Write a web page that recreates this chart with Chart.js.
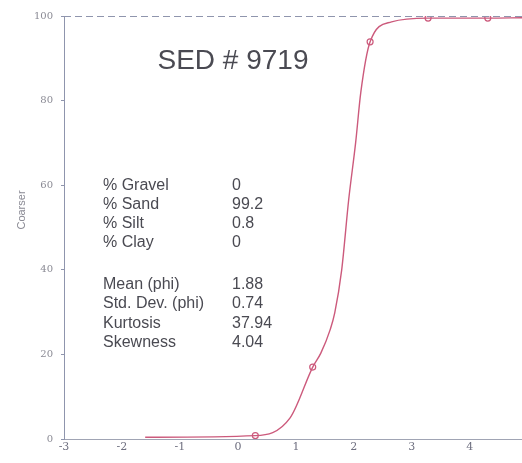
<!DOCTYPE html>
<html>
<head>
<meta charset="utf-8">
<script src="https://cdn.jsdelivr.net/npm/chart.js@4.4.1/dist/chart.umd.min.js"></script>
<style>
  html, body { margin: 0; padding: 0; background: #fff; }
  #wrap { width: 522px; height: 463px; }
</style>
</head>
<body>
<div id="wrap"><canvas id="sed"></canvas></div>
<script>
// cumulative curve (phi, % coarser)
const curvePhi = [-1.6, 0.3, 0.9, 1.29, 1.43, 1.59, 1.67, 1.79, 1.91, 2.03, 2.12, 2.28, 2.65, 3.28, 4.31, 4.9];
const curvePct = [0.4, 0.8, 5, 17, 20.3, 25.8, 29.8, 40, 56.5, 70, 82, 93.9, 98.6, 99.5, 99.5, 99.6];
// which points carry a circle marker
const markerOn = [false, true, false, true, false, false, false, false, false, false, false, true, false, true, true, false];

const xTicks = [-3, -2, -1, 0, 1, 2, 3, 4];
const yTicks = [0, 20, 40, 60, 80, 100];

const sampleTitle = "SED # 9719";
const axisTitle = "Coarser";
const statLabels = ["% Gravel", "% Sand", "% Silt", "% Clay", "Mean (phi)", "Std. Dev. (phi)", "Kurtosis", "Skewness"];
const statValues = ["0", "99.2", "0.8", "0", "1.88", "0.74", "37.94", "4.04"];

const points = curvePhi.map((x, i) => ({ x: x, y: curvePct[i] }));

// титул і таблиця статистики малюються поверх графіка
const textPlugin = {
    id: 'sedText',
    afterDraw(chart) {
        const ctx = chart.ctx;
        const area = chart.chartArea;
        ctx.save();
        // верхня пунктирна рамка
        ctx.strokeStyle = '#8f95ad';
        ctx.lineWidth = 1;
        ctx.setLineDash([7, 4]);
        ctx.beginPath();
        ctx.moveTo(area.left, area.top + 0.5);
        ctx.lineTo(area.right, area.top + 0.5);
        ctx.stroke();
        ctx.setLineDash([]);

        // підпис осі Y
        ctx.fillStyle = '#8a8a94';
        ctx.font = '11px "Liberation Sans", Arial, sans-serif';
        ctx.textAlign = 'center';
        ctx.textBaseline = 'middle';
        ctx.translate(22, 210);
        ctx.rotate(-Math.PI / 2);
        ctx.fillText(axisTitle, 0, 0);
        ctx.setTransform(1, 0, 0, 1, 0, 0);

        ctx.fillStyle = '#4a4a52';
        ctx.font = '28px "Liberation Sans", Arial, sans-serif';
        ctx.fillText(sampleTitle, 233, 61);

        ctx.font = '16px "Liberation Sans", Arial, sans-serif';
        ctx.textAlign = 'left';
        const rows = [186, 205, 224, 243, 285, 304, 324, 343];
        statLabels.forEach((lab, i) => {
            ctx.fillText(lab, 103, rows[i]);
            ctx.fillText(statValues[i], 232, rows[i]);
        });
        ctx.restore();
    }
};

new Chart(document.getElementById('sed'), {
    type: 'line',
    plugins: [textPlugin],
    data: {
        datasets: [{
            data: points,
            borderColor: '#cc5a7c',
            borderWidth: 1.4,
            cubicInterpolationMode: 'monotone',
            pointRadius: markerOn.map(m => m ? 3 : 0),
            pointBorderColor: '#cc5a7c',
            pointBackgroundColor: 'rgba(255,255,255,0)',
            pointBorderWidth: 1.2,
            fill: false
        }]
    },
    options: {
        responsive: true,
        maintainAspectRatio: false,
        animation: false,
        layout: { padding: { left: 0, right: 0, top: 16, bottom: 0 } },
        plugins: { legend: { display: false }, tooltip: { enabled: false } },
        scales: {
            x: {
                type: 'linear',
                min: -3,
                max: 4.9,
                afterFit(s) { s.height = 24; },
                afterBuildTicks(s) { s.ticks = xTicks.map(v => ({ value: v })); },
                ticks: { color: '#6f7080', font: { size: 11, family: 'DejaVu Serif' }, padding: 2 },
                grid: { display: false, drawTicks: false },
                border: { color: '#a0a4b4', dash: [9, 5] }
            },
            y: {
                min: 0,
                max: 100,
                afterFit(s) { s.width = 64; },
                afterBuildTicks(s) { s.ticks = yTicks.map(v => ({ value: v })); },
                ticks: { color: '#8a8a94', font: { size: 10, family: 'DejaVu Serif' }, padding: 8 },
                grid: { drawOnChartArea: false, tickLength: 3, color: '#8f95ad' },
                border: { color: '#8f95ad', dash: [12, 3] }
            }
        }
    }
});
</script>
</body>
</html>
